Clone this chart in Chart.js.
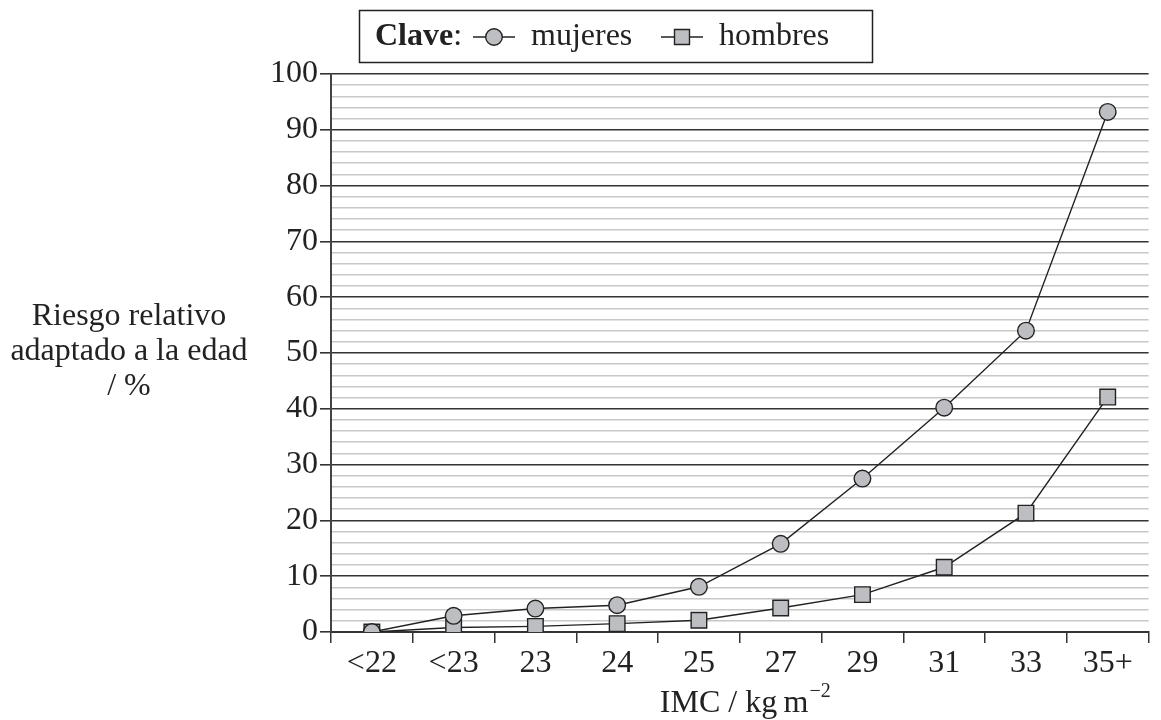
<!DOCTYPE html>
<html>
<head>
<meta charset="utf-8">
<script src="https://cdn.jsdelivr.net/npm/chart.js@4"></script>
<style>
  html, body { margin: 0; padding: 0; background: #fff; overflow: hidden; }
  #wrap { position: relative; width: 1161px; height: 720px; }
</style>
</head>
<body>
<div id="wrap"><canvas id="myChart" width="1161" height="720"></canvas></div>
<script>
// datos
const categorias = ["<22", "<23", "23", "24", "25", "27", "29", "31", "33", "35+"];
const mujeres = [0, 2.9, 4.2, 4.8, 8.1, 15.8, 27.5, 40.2, 54, 93.2];
const hombres = [0, 0.8, 1.0, 1.5, 2.1, 4.3, 6.7, 11.6, 21.3, 42.1];
const yMin = 0;
const yMax = 100;
const pasoMenor = 2;
const pasoMayor = 10;
const tituloY = ["Riesgo relativo", "adaptado a la edad", "/ %"];
const tituloX = "IMC / kg\u2009m";
const tituloXExp = "\u22122";
const leyendaClave = "Clave";

const FONT = "'Liberation Serif', 'Times New Roman', serif";
const gris = "#bdbec2";
const negro = "#222";

// leyenda + titulos dibujados a mano
const extras = {
  id: "extras",
  afterDraw(chart) {
    const ctx = chart.ctx;
    ctx.save();
    ctx.fillStyle = negro;
    ctx.textBaseline = "middle";

    // titulo eje y
    ctx.font = "32px " + FONT;
    ctx.textAlign = "center";
    tituloY.forEach(function (t, i) {
      ctx.fillText(t, 129, 317 + i * 35);
    });

    // titulo eje x con exponente
    const area = chart.chartArea;
    ctx.textAlign = "left";
    ctx.font = "32px " + FONT;
    const w1 = ctx.measureText(tituloX).width;
    ctx.font = "20px " + FONT;
    const w2 = ctx.measureText(tituloXExp).width;
    const x0 = (area.left + area.right) / 2 - (w1 + w2) / 2 + 5;
    ctx.font = "32px " + FONT;
    ctx.fillText(tituloX, x0, 704);
    ctx.font = "20px " + FONT;
    ctx.fillText(tituloXExp, x0 + w1 + 1, 692);

    // caja de leyenda
    ctx.strokeStyle = negro;
    ctx.lineWidth = 1.5;
    ctx.strokeRect(359.5, 10.5, 513, 52);
    const cy = 37;
    ctx.font = "bold 32px " + FONT;
    ctx.fillText(leyendaClave, 375, cy);
    const wc = ctx.measureText(leyendaClave).width;
    ctx.font = "32px " + FONT;
    ctx.fillText(":", 375 + wc, cy);
    const iconos = [494, 682];
    chart.data.datasets.forEach(function (ds, i) {
      const x = iconos[i];
      ctx.strokeStyle = ds.borderColor;
      ctx.lineWidth = ds.borderWidth;
      ctx.beginPath();
      ctx.moveTo(x - 21, cy);
      ctx.lineTo(x + 21, cy);
      ctx.stroke();
      ctx.fillStyle = ds.pointBackgroundColor;
      ctx.strokeStyle = ds.pointBorderColor;
      ctx.lineWidth = ds.pointBorderWidth;
      ctx.beginPath();
      if (ds.pointStyle === "rect") {
        ctx.rect(x - 7.5, cy - 7.5, 15, 15);
      } else {
        ctx.arc(x, cy, 8.3, 0, Math.PI * 2);
      }
      ctx.fill();
      ctx.stroke();
      ctx.fillStyle = negro;
      ctx.font = "32px " + FONT;
      ctx.fillText(ds.label, x + 37, cy);
    });
    ctx.restore();
  },
};

const ctx = document.querySelector("#myChart");
const chart = new Chart(ctx, {
  type: "line",
  data: {
    labels: categorias,
    datasets: [
      {
        label: "mujeres",
        data: mujeres,
        borderColor: negro,
        borderWidth: 1.4,
        pointStyle: "circle",
        pointRadius: 8.3,
        pointBackgroundColor: gris,
        pointBorderColor: negro,
        pointBorderWidth: 1.4,
        tension: 0,
      },
      {
        label: "hombres",
        data: hombres,
        borderColor: negro,
        borderWidth: 1.4,
        pointStyle: "rect",
        pointRadius: 11,
        pointBackgroundColor: gris,
        pointBorderColor: negro,
        pointBorderWidth: 1.4,
        tension: 0,
      },
    ],
  },
  options: {
    responsive: false,
    animation: false,
    layout: { padding: { top: 74, right: 0, bottom: 0, left: 0 } },
    plugins: {
      legend: { display: false },
      tooltip: { enabled: false },
    },
    scales: {
      x: {
        offset: true,
        afterFit(scale) {
          scale.height = 88;
        },
        grid: {
          offset: true,
          drawOnChartArea: false,
          drawTicks: true,
          tickLength: 11,
          color: "#333",
          lineWidth: 1.5,
        },
        border: { display: true, color: "#333", width: 2 },
        ticks: {
          color: negro,
          font: { family: FONT, size: 32 },
          padding: 1,
          maxRotation: 0,
        },
      },
      y: {
        min: yMin,
        max: yMax,
        afterFit(scale) {
          scale.width = 331;
        },
        grid: {
          color(c) {
            return c.tick && c.tick.value % pasoMayor === 0 ? "#333" : "#c8c8c8";
          },
          tickColor(c) {
            return c.tick && c.tick.value % pasoMayor === 0 ? "#333" : "rgba(0,0,0,0)";
          },
          lineWidth: 1.6,
          tickLength: 11,
        },
        border: { display: true, color: "#444", width: 2 },
        ticks: {
          stepSize: pasoMenor,
          autoSkip: false,
          color: negro,
          font: { family: FONT, size: 32 },
          padding: 2,
          callback(v) {
            return v % pasoMayor === 0 ? v : "";
          },
        },
      },
    },
  },
  plugins: [extras],
});
</script>
</body>
</html>
